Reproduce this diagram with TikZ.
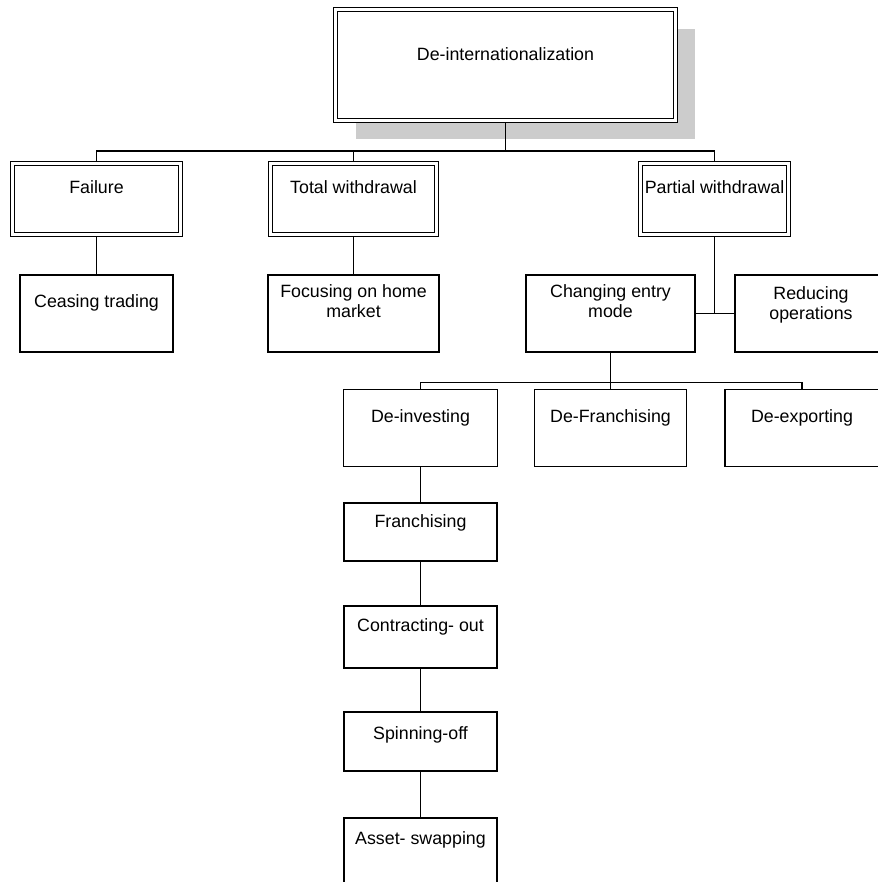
\documentclass[tikz,border=0pt]{standalone}
\usepackage{fontspec}
\setmainfont{Liberation Sans}
\usetikzlibrary{positioning}
\usetikzlibrary{shadows}
\newcommand{\boxfont}{\fontsize{17.8}{20}\selectfont}

\begin{document}
\begin{tikzpicture}[x=1pt, y=-1pt]
    % ================= 样式定义 =================
    \tikzset{
        % 双线框
        dbox/.style={draw, double, double distance=3pt, line width=1.2pt, fill=white, inner sep=0pt, outer sep=2.7pt},
        % 单线框
        sbox/.style={draw, line width=1.2pt, fill=white, inner sep=0pt},
        % 框内文字 (靠上)
        txt/.style={font=\boxfont, align=center, inner sep=0pt},
        % 连线
        link/.style={line width=1.4pt}
    }
    \useasboundingbox (0,0) rectangle (877,882);

    % ================= 第一层:根 =================
    \node[dbox, minimum width=339.6pt, minimum height=110.6pt,
          drop shadow={shadow xshift=20pt, shadow yshift=-19pt, fill=black!20, opacity=1}] (deint) at (505.5,65) {};
    \node[txt, below=40pt of deint.north] (deinttxt) {De-internationalization};

    % ================= 第二层:三种方式 =================
    \node[dbox, minimum width=167.6pt, minimum height=70.6pt] (fail) at (96.5,199) {};
    \node[txt, below=19pt of fail.north] (failtxt) {Failure};
    \node[dbox, minimum width=165.6pt, minimum height=70.6pt] (total) at (353.5,199) {};
    \node[txt, below=19pt of total.north] (totaltxt) {Total withdrawal};
    \node[dbox, minimum width=147.6pt, minimum height=70.6pt] (part) at (714.5,199) {};
    \node[txt, below=19pt of part.north] (parttxt) {Partial withdrawal};

    % 连接腿
    \coordinate[below=28pt of deint.south] (bus1);
    \draw[link] (deint.south) -- (bus1);
    \draw[link] (fail.north) |- (bus1) -| (part.north);
    \draw[link] (total.north) -- (total.north |- bus1);

    % ================= 第三层 =================
    \node[sbox, minimum width=153pt, minimum height=77pt] (cease) at (96.5,313.5) {};
    \node[txt, below=20pt of cease.north] (ceasetxt) {Ceasing trading};
    \node[sbox, minimum width=171pt, minimum height=77pt] (focus) at (353.5,313.5) {};
    \node[txt, below=10pt of focus.north] (focustxt) {Focusing on home\\market};
    \node[sbox, minimum width=169pt, minimum height=77pt] (change) at (610.5,313.5) {};
    \node[txt, below=10pt of change.north] (changetxt) {Changing entry\\mode};
    \node[sbox, minimum width=152pt, minimum height=77pt] (reduce) at (811,313.5) {};
    \node[txt, below=12pt of reduce.north] (reducetxt) {Reducing\\operations};

    \draw[link] (fail) -- (cease);
    \draw[link] (total) -- (focus);
    \draw[link] (part.south) -- (part.south |- change.east);
    \draw[link] (change.east) -- (reduce.west);

    % ================= 第四层:改变进入方式 =================
    \node[sbox, minimum width=154pt, minimum height=77pt] (deinv) at (420.5,428) {};
    \node[txt, below=20pt of deinv.north] (deinvtxt) {De-investing};
    \node[sbox, minimum width=152pt, minimum height=77pt] (defran) at (610.5,428) {};
    \node[txt, below=20pt of defran.north] (defrantxt) {De-Franchising};
    \node[sbox, minimum width=154pt, minimum height=77pt] (deexp) at (802,428) {};
    \node[txt, below=20pt of deexp.north] (deexptxt) {De-exporting};

    \coordinate[below=30pt of change.south] (bus2);
    \draw[link] (change.south) -- (defran.north);
    \draw[link] (deinv.north) |- (bus2) -| (deexp.north);

    % ================= 第五层:撤资方式 (竖列) =================
    \node[sbox, minimum width=153pt, minimum height=58pt] (fran) at (420.5,532) {};
    \node[txt, below=12pt of fran.north] (frantxt) {Franchising};
    \node[sbox, minimum width=153pt, minimum height=62pt] (contr) at (420.5,637) {};
    \node[txt, below=13pt of contr.north] (contrtxt) {Contracting- out};
    \node[sbox, minimum width=153pt, minimum height=59pt] (spin) at (420.5,741.5) {};
    \node[txt, below=15pt of spin.north] (spintxt) {Spinning-off};
    \node[sbox, minimum width=153pt, minimum height=68pt] (asset) at (420.5,852) {};
    \node[txt, below=14pt of asset.north] (assettxt) {Asset- swapping};

    \draw[link] (deinv) -- (fran) -- (contr) -- (spin) -- (asset);
\end{tikzpicture}
\end{document}
